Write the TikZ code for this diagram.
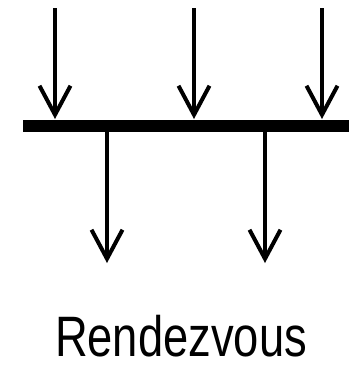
\documentclass[tikz,border=0pt]{standalone}
\usepackage{fontspec}
\setmainfont{Liberation Sans}
\usetikzlibrary{arrows.meta}

\begin{document}
\begin{tikzpicture}[x=1pt,y=-1pt,
	flow/.style={line width=3.5pt,-{Straight Barb[length=29pt,width=31pt,line width=4pt]}}]
	\useasboundingbox (0,0) rectangle (349,365);
	\coordinate (in1) at (55, 8);
	\coordinate (in2) at (194, 8);
	\coordinate (in3) at (322, 8);
	\coordinate (b1) at (55, 119);
	\coordinate (b2) at (194, 119);
	\coordinate (b3) at (322, 119);
	\coordinate (barL) at (23, 126);
	\coordinate (barR) at (349, 126);
	\coordinate (o1) at (107, 132);
	\coordinate (o2) at (265, 132);
	\coordinate (out1) at (107, 263);
	\coordinate (out2) at (265, 263);
	\node[anchor=base,inner sep=0pt,xscale=0.795] (label) at (181, 356) {\fontsize{57}{60}\selectfont Rendezvous};
	\draw[line width=12pt] (barL) -- (barR);
	\draw[flow] (in1) -- (b1);
	\draw[flow] (in2) -- (b2);
	\draw[flow] (in3) -- (b3);
	\draw[flow] (o1) -- (out1);
	\draw[flow] (o2) -- (out2);
\end{tikzpicture}
\end{document}
